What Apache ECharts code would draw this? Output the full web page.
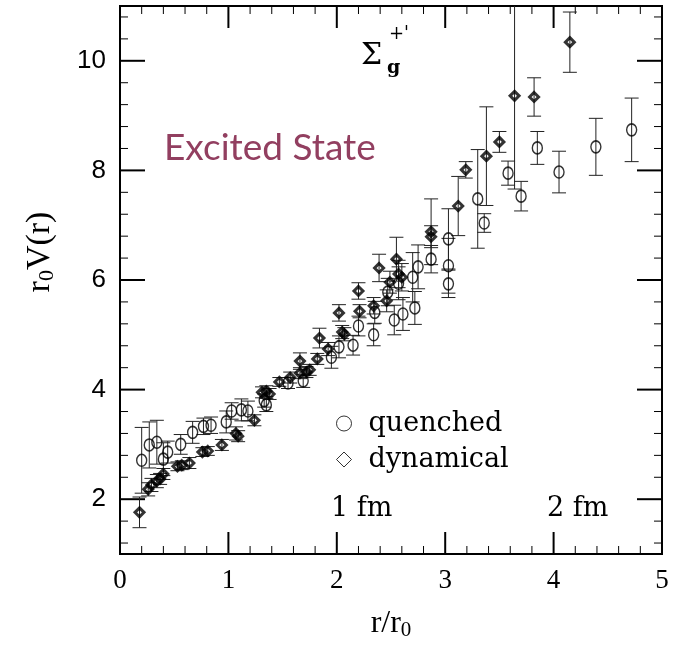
<!DOCTYPE html>
<html>
<head>
<meta charset="utf-8">
<script src="https://cdn.jsdelivr.net/npm/echarts@6/dist/echarts.min.js"></script>
<style>
  html, body { margin: 0; padding: 0; background: #fff; }
  #chart { width: 684px; height: 653px; }
</style>
</head>
<body>
<div id="chart"></div>
<script>
// quenched (open circles): r/r0, r0 V(r), error
const quenchedX = [0.20, 0.27, 0.34, 0.40, 0.44, 0.56, 0.67, 0.77, 0.84, 0.98, 1.03, 1.12, 1.18, 1.33, 1.35,
  1.55, 1.69, 1.95, 2.02, 2.15, 2.20, 2.34, 2.35, 2.47, 2.53, 2.57, 2.61, 2.70, 2.72, 2.75, 2.87,
  3.03, 3.03, 3.03, 3.30, 3.36, 3.58, 3.70, 3.85, 4.05, 4.39, 4.72];
const quenchedY = [2.71, 2.99, 3.04, 2.73, 2.86, 3.00, 3.22, 3.33, 3.35, 3.41, 3.61, 3.63, 3.61, 3.80, 3.72,
  4.12, 4.16, 4.59, 4.78, 4.81, 5.16, 5.00, 5.41, 5.78, 5.27, 5.94, 5.38, 6.05, 5.49, 6.24, 6.38,
  6.75, 6.26, 5.93, 7.48, 7.04, 7.95, 7.53, 8.41, 7.97, 8.43, 8.74];
const quenchedErr = [0.60, 0.42, 0.40, 0.30, 0.20, 0.18, 0.20, 0.15, 0.15, 0.20, 0.15, 0.20, 0.18, 0.12, 0.12,
  0.10, 0.12, 0.20, 0.20, 0.18, 0.18, 0.20, 0.20, 0.25, 0.27, 0.30, 0.30, 0.45, 0.30, 0.40, 0.25,
  0.55, 0.50, 0.25, 0.90, 0.17, 0.22, 0.27, 0.30, 0.38, 0.52, 0.58];

// dynamical (diamonds)
const dynamicalX = [0.18, 0.26, 0.29, 0.34, 0.37, 0.40, 0.53, 0.57, 0.64, 0.76, 0.81, 0.94, 1.07, 1.09, 1.24,
  1.31, 1.35, 1.38, 1.47, 1.57, 1.66, 1.72, 1.66, 1.75, 1.82, 1.84, 1.92, 2.02, 2.05, 2.07,
  2.20, 2.21, 2.34, 2.39, 2.46, 2.49, 2.55, 2.57, 2.60, 2.87, 2.87, 3.12, 3.19, 3.38, 3.50,
  3.64, 3.82, 4.15];
const dynamicalY = [1.76, 2.18, 2.26, 2.33, 2.37, 2.46, 2.60, 2.62, 2.66, 2.86, 2.88, 2.99, 3.20, 3.15, 3.44,
  3.95, 3.97, 3.92, 4.14, 4.22, 4.30, 4.32, 4.52, 4.36, 4.56, 4.94, 4.74, 5.40, 5.05, 5.01,
  5.80, 5.43, 5.53, 6.22, 5.62, 5.96, 6.38, 6.11, 6.05, 6.88, 6.79, 7.35, 8.01, 8.26, 8.52,
  9.36, 9.34, 10.34];
const dynamicalErr = [0.28, 0.12, 0.12, 0.12, 0.10, 0.10, 0.08, 0.08, 0.10, 0.08, 0.08, 0.10, 0.12, 0.10, 0.10,
  0.10, 0.10, 0.10, 0.08, 0.10, 0.10, 0.10, 0.15, 0.10, 0.10, 0.18, 0.12, 0.15, 0.12, 0.12,
  0.15, 0.12, 0.15, 0.25, 0.20, 0.20, 0.40, 0.25, 0.25, 0.60, 0.20, 0.54, 0.15, 0.90, 0.19,
  1.70, 0.35, 0.55];

// frame ticks
const xMajor = [1, 2, 3, 4];
const xMinor = [0.2, 0.4, 0.6, 0.8, 1.2, 1.4, 1.6, 1.8, 2.2, 2.4, 2.6, 2.8,
  3.2, 3.4, 3.6, 3.8, 4.2, 4.4, 4.6, 4.8];
const yMajor = [2, 4, 6, 8, 10];
const yMinor = [1.2, 1.6, 2.4, 2.8, 3.2, 3.6, 4.4, 4.8, 5.2, 5.6, 6.4, 6.8, 7.2, 7.6,
  8.4, 8.8, 9.2, 9.6, 10.4, 10.8];

const serif = "'DejaVu Serif', serif";
const lserif = "'Liberation Serif', serif";

function points(xs, ys) {
  return xs.map((x, i) => [x, ys[i]]);
}
function bars(xs, ys, es) {
  return xs.map((x, i) => [x, ys[i] - es[i], ys[i] + es[i]]);
}

function renderErr(params, api) {
  const x = api.value(0);
  const lo = api.coord([x, api.value(1)]);
  const hi = api.coord([x, api.value(2)]);
  const w = 7;
  const st = { stroke: '#222', lineWidth: 1 };
  return {
    type: 'group',
    children: [
      { type: 'line', shape: { x1: lo[0], y1: lo[1], x2: hi[0], y2: hi[1] }, style: st },
      { type: 'line', shape: { x1: lo[0] - w, y1: lo[1], x2: lo[0] + w, y2: lo[1] }, style: st },
      { type: 'line', shape: { x1: hi[0] - w, y1: hi[1], x2: hi[0] + w, y2: hi[1] }, style: st }
    ]
  };
}

// inward ticks on all four sides: [x, y, length, kind] (kind 0 = x tick, 1 = y tick)
const tickData = [].concat(
  xMajor.map(v => [v, 6, 22, 0]), xMinor.map(v => [v, 6, 8, 0]),
  yMajor.map(v => [2.5, v, 25, 1]), yMinor.map(v => [2.5, v, 8, 1])
);
function renderTick(params, api) {
  const len = api.value(2);
  const st = { stroke: '#000', lineWidth: len > 10 ? 2 : 1 };
  if (api.value(3) === 0) {
    const v = api.value(0);
    const b = api.coord([v, 1]), t = api.coord([v, 11]);
    return {
      type: 'group', children: [
        { type: 'line', shape: { x1: b[0], y1: b[1], x2: b[0], y2: b[1] - len }, style: st },
        { type: 'line', shape: { x1: t[0], y1: t[1], x2: t[0], y2: t[1] + len }, style: st }
      ]
    };
  }
  const v = api.value(1);
  const l = api.coord([0, v]), r = api.coord([5, v]);
  return {
    type: 'group', children: [
      { type: 'line', shape: { x1: l[0], y1: l[1], x2: l[0] + len, y2: l[1] }, style: st },
      { type: 'line', shape: { x1: r[0], y1: r[1], x2: r[0] - len, y2: r[1] }, style: st }
    ]
  };
}

const chart = echarts.init(document.getElementById('chart'));

chart.setOption({
  grid: { left: 120, right: 22, top: 6, bottom: 99, show: true, borderColor: '#000', borderWidth: 2 },
  xAxis: {
    type: 'value', min: 0, max: 5, interval: 1,
    axisLine: { show: false },
    axisTick: { show: false },
    splitLine: { show: false },
    axisLabel: { color: '#000', fontFamily: lserif, fontSize: 27, margin: 13 },
    name: '{a|r/r}{s|0}',
    nameLocation: 'middle',
    nameGap: 52,
    nameTextStyle: {
      rich: {
        a: { fontFamily: lserif, fontSize: 32, color: '#000' },
        s: { fontFamily: lserif, fontSize: 21, color: '#000', padding: [14, 0, 0, 0] }
      }
    }
  },
  yAxis: {
    type: 'value', min: 1, max: 11,
    axisLine: { show: false },
    axisTick: { show: false },
    splitLine: { show: false },
    axisLabel: {
      customValues: yMajor, color: '#000',
      fontFamily: "'Liberation Sans', sans-serif", fontSize: 26, margin: 14
    }
  },
  legend: {
    orient: 'vertical', left: 331, top: 405, itemGap: 9,
    itemWidth: 15, itemHeight: 15,
    textStyle: { fontFamily: serif, fontSize: 27, color: '#000', lineHeight: 27, padding: [0, 0, 0, 12] },
    data: [
      { name: 'quenched', icon: 'circle', itemStyle: { color: 'rgba(0,0,0,0)', borderColor: '#000', borderWidth: 1 } },
      { name: 'dynamical', icon: 'diamond', itemStyle: { color: 'rgba(0,0,0,0)', borderColor: '#000', borderWidth: 1 } }
    ]
  },
  series: [
    {
      type: 'custom', name: 'ticks', renderItem: renderTick, clip: true,
      data: tickData, z: 1
    },
    {
      type: 'custom', name: 'quenched-err', renderItem: renderErr, clip: true,
      data: bars(quenchedX, quenchedY, quenchedErr), z: 1
    },
    {
      type: 'custom', name: 'dynamical-err', renderItem: renderErr, clip: true,
      data: bars(dynamicalX, dynamicalY, dynamicalErr), z: 1
    },
    {
      type: 'scatter', name: 'quenched', symbol: 'circle', symbolSize: [10, 12],
      itemStyle: { color: 'rgba(0,0,0,0)', borderColor: '#000', borderWidth: 1.5 },
      data: points(quenchedX, quenchedY), z: 3
    },
    {
      type: 'scatter', name: 'dynamical', symbol: 'diamond', symbolSize: 9,
      itemStyle: { color: 'rgba(0,0,0,0)', borderColor: '#000', borderWidth: 3 },
      data: points(dynamicalX, dynamicalY), z: 3
    }
  ],
  graphic: [
    {
      type: 'text', x: 40, y: 252, rotation: Math.PI / 2,
      style: {
        text: '{a|r}{s|0}{a|V(r)}', align: 'center', verticalAlign: 'middle',
        rich: {
          a: { fontFamily: lserif, fontSize: 34, fill: '#000' },
          s: { fontFamily: lserif, fontSize: 22, fill: '#000', padding: [15, 0, 0, 0] }
        }
      }
    },
    {
      type: 'text', left: 164, top: 130,
      style: { text: 'Excited State', fontFamily: 'Lato, sans-serif', fontSize: 37, fill: '#923f60' }
    },
    { type: 'text', left: 361, top: 41, style: { text: 'Σ', fontFamily: serif, fontSize: 30, fill: '#000' } },
    { type: 'text', left: 387, top: 59, style: { text: 'g', fontFamily: serif, fontWeight: 'bold', fontSize: 19, fill: '#000' } },
    { type: 'text', left: 389, top: 25, style: { text: "+'", fontFamily: serif, fontSize: 18, fill: '#000' } },
    { type: 'text', left: 331, top: 495, style: { text: '1 fm', fontFamily: serif, fontSize: 27, fill: '#000' } },
    { type: 'text', left: 547, top: 495, style: { text: '2 fm', fontFamily: serif, fontSize: 27, fill: '#000' } }
  ]
});
</script>
</body>
</html>
